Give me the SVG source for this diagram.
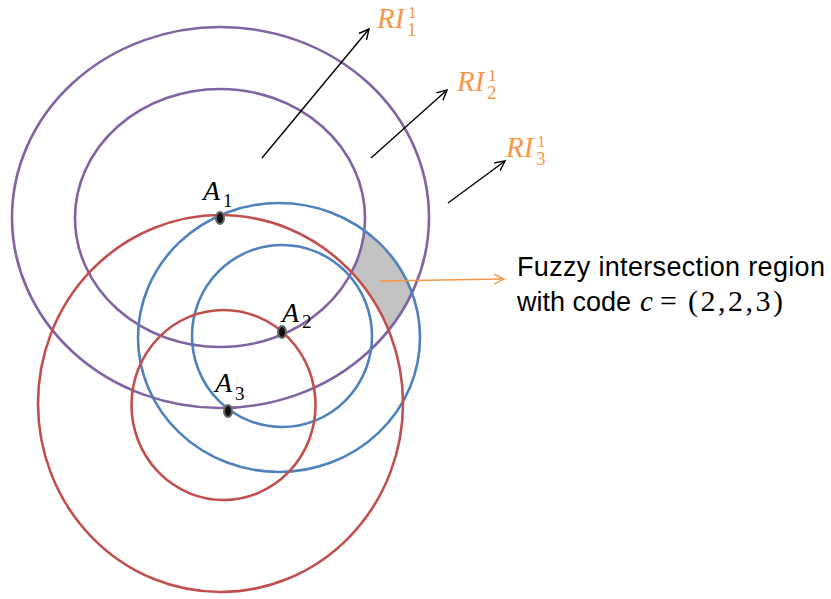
<svg xmlns="http://www.w3.org/2000/svg" width="831" height="599" viewBox="0 0 831 599">
<style>
.ring{fill:none;stroke-width:2.6}
.pu{stroke:#8064A2}
.bl{stroke:#4F81BD}
.rd{stroke:#C0504D}
.dot{fill:#111;stroke:#666;stroke-width:2}
.math{font-family:"Liberation Serif","DejaVu Serif",serif;font-style:italic}
.ri{fill:#F79646;font-size:29px}
.a{fill:#000;font-size:28px}
.sub{font-style:normal;font-size:19px}
.sup{font-style:normal;font-size:17px}
.lbl{font-family:"Liberation Sans",Arial,sans-serif;font-size:27px;fill:#000}
.up{font-family:"Liberation Serif","DejaVu Serif",serif;font-size:30px}
.arr{stroke:#000;stroke-width:1.4;fill:none;marker-end:url(#ah)}
</style>
<defs>
<marker id="ah" markerWidth="12" markerHeight="12" refX="10" refY="5" orient="auto" markerUnits="userSpaceOnUse" viewBox="0 0 12 10">
<path d="M0,0 L10,5 L0,10" fill="none" stroke="#000" stroke-width="1.4"/>
</marker>
<marker id="oh" markerWidth="12" markerHeight="12" refX="10" refY="5" orient="auto" markerUnits="userSpaceOnUse" viewBox="0 0 12 10">
<path d="M0,0 L10,5 L0,10" fill="none" stroke="#F79646" stroke-width="1.4"/>
</marker>
<clipPath id="cpOuterPurple"><ellipse cx="220.5" cy="217.5" rx="208.5" ry="190.5"/></clipPath>
<clipPath id="cpOuterBlue"><ellipse cx="279" cy="337.5" rx="141" ry="134.5"/></clipPath>
<mask id="mk">
<rect x="0" y="0" width="831" height="599" fill="#fff"/>
<ellipse cx="220" cy="218" rx="145" ry="129" fill="#000"/>
<ellipse cx="282" cy="336" rx="90" ry="91" fill="#000"/>
<ellipse cx="220.5" cy="403.5" rx="182.5" ry="188.5" fill="#000"/>
</mask>
</defs>
<g id="region">
<g clip-path="url(#cpOuterPurple)"><g clip-path="url(#cpOuterBlue)">
<rect x="0" y="0" width="831" height="599" fill="#C3C3C3" mask="url(#mk)"/>
</g></g>
</g>
<g id="circlesA1">
<ellipse class="ring pu" cx="220.5" cy="217.5" rx="208.5" ry="190.5"/>
<ellipse class="ring pu" cx="220" cy="218" rx="145" ry="129"/>
</g>
<g id="circlesA2">
<ellipse class="ring bl" cx="279" cy="337.5" rx="141" ry="134.5"/>
<ellipse class="ring bl" cx="282" cy="336" rx="90" ry="91"/>
</g>
<g id="circlesA3">
<ellipse class="ring rd" cx="220.5" cy="403.5" rx="182.5" ry="188.5"/>
<ellipse class="ring rd" cx="223.5" cy="405" rx="92" ry="95"/>
</g>
<g id="connectors">
<line class="arr" x1="262" y1="158" x2="369" y2="29"/>
<line class="arr" x1="371" y1="158" x2="447" y2="90"/>
<line class="arr" x1="448" y1="203" x2="505" y2="161"/>
<line x1="380" y1="281" x2="504" y2="279" stroke="#F79646" stroke-width="1.4" marker-end="url(#oh)"/>
</g>
<g id="A1">
<ellipse class="dot" cx="220" cy="218" rx="4" ry="6"/>
<text class="math a" x="203" y="200">A<tspan class="sub" x="223" y="207">1</tspan></text>
</g>
<g id="A2">
<ellipse class="dot" cx="282" cy="332" rx="4" ry="6"/>
<text class="math a" x="282" y="322">A<tspan class="sub" x="302" y="328">2</tspan></text>
</g>
<g id="A3">
<ellipse class="dot" cx="228" cy="411" rx="4" ry="6"/>
<text class="math a" x="215" y="392">A<tspan class="sub" x="235" y="400">3</tspan></text>
</g>
<g id="RI1">
<text class="math ri" x="377" y="28">RI<tspan class="sub" x="407" y="36">1</tspan><tspan class="sup" x="408" y="18">1</tspan></text>
</g>
<g id="RI2">
<text class="math ri" x="457" y="91">RI<tspan class="sub" x="487" y="99">2</tspan><tspan class="sup" x="488" y="81">1</tspan></text>
</g>
<g id="RI3">
<text class="math ri" x="506" y="157">RI<tspan class="sub" x="536" y="165">3</tspan><tspan class="sup" x="537" y="147">1</tspan></text>
</g>
<g id="label">
<text class="lbl" x="517" y="276" textLength="308" lengthAdjust="spacing">Fuzzy intersection region</text>
<text class="lbl" x="517" y="311">with code</text>
<text class="math" x="640" y="311" font-size="29">c</text>
<text class="up" x="660" y="311">=</text>
<text class="up" x="688" y="311" textLength="95" lengthAdjust="spacing">(2,2,3)</text>
</g>
</svg>
